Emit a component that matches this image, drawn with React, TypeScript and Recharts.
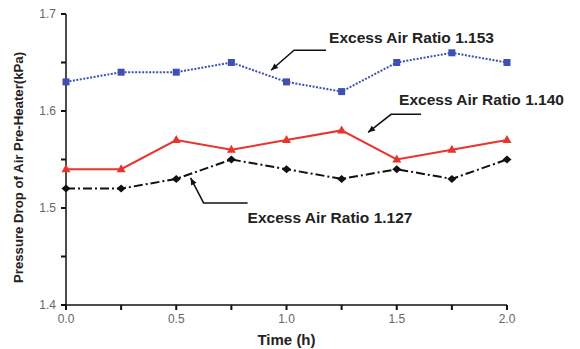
import React from "react"
import { LineChart, Line, XAxis, YAxis, ReferenceDot, Label } from "recharts"

const times = [0, 0.25, 0.5, 0.75, 1.0, 1.25, 1.5, 1.75, 2.0]
const ratio1153 = [1.63, 1.64, 1.64, 1.65, 1.63, 1.62, 1.65, 1.66, 1.65]
const ratio1140 = [1.54, 1.54, 1.57, 1.56, 1.57, 1.58, 1.55, 1.56, 1.57]
const ratio1127 = [1.52, 1.52, 1.53, 1.55, 1.54, 1.53, 1.54, 1.53, 1.55]

const xTicks = [0, 0.25, 0.5, 0.75, 1.0, 1.25, 1.5, 1.75, 2.0]
const yTicks = [1.4, 1.45, 1.5, 1.55, 1.6, 1.65, 1.7]

// annotation anchors (where the arrow points), in data units
const notes = [
  { label: "Excess Air Ratio 1.153", x: 0.93, y: 1.642, kind: "up" },
  { label: "Excess Air Ratio 1.140", x: 1.37, y: 1.578, kind: "up2" },
  { label: "Excess Air Ratio 1.127", x: 0.565, y: 1.531, kind: "down" },
]

const data = times.map((t, i) => ({
  t,
  a: ratio1153[i],
  b: ratio1140[i],
  c: ratio1127[i],
}))

const FONT = "'Liberation Sans', Arial, sans-serif"
const BLUE = "#3f4fb4"
const RED = "#e8342c"

const isMajor = (v: number) => Math.abs(v * 2 - Math.round(v * 2)) < 1e-6
const isMajorY = (v: number) => Math.abs(v * 10 - Math.round(v * 10)) < 1e-6

const Square = (props: any) => {
  const { cx, cy } = props
  return <rect x={cx - 3.5} y={cy - 3.5} width={7} height={7} fill={BLUE} />
}

const Triangle = (props: any) => {
  const { cx, cy } = props
  return <polygon points={`${cx},${cy - 5} ${cx - 4.5},${cy + 3} ${cx + 4.5},${cy + 3}`} fill={RED} />
}

const Diamond = (props: any) => {
  const { cx, cy } = props
  return <polygon points={`${cx},${cy - 4} ${cx + 4.5},${cy} ${cx},${cy + 4} ${cx - 4.5},${cy}`} fill="#111" />
}

const arrowHead = (tx: number, ty: number, fx: number, fy: number) => {
  const ang = Math.atan2(ty - fy, tx - fx)
  const len = 7
  const w = 3
  const bx = tx - len * Math.cos(ang)
  const by = ty - len * Math.sin(ang)
  const px = -Math.sin(ang) * w
  const py = Math.cos(ang) * w
  return `${tx},${ty} ${bx + px},${by + py} ${bx - px},${by - py}`
}

const Note = (props: any) => {
  const { cx, cy, note } = props
  let elbow: [number, number]
  let end: [number, number]
  let text: [number, number]
  if (note.kind === "up") {
    elbow = [cx + 23, cy - 20]
    end = [cx + 55, cy - 20]
    text = [cx + 58, cy - 27]
  } else if (note.kind === "up2") {
    elbow = [cx + 23, cy - 18]
    end = [cx + 53, cy - 18]
    text = [cx + 31, cy - 27]
  } else {
    elbow = [cx + 13, cy + 25]
    end = [cx + 57, cy + 25]
    text = [cx + 57, cy + 45]
  }
  return (
    <g>
      <polyline
        points={`${cx},${cy} ${elbow[0]},${elbow[1]} ${end[0]},${end[1]}`}
        fill="none"
        stroke="#111"
        strokeWidth={1.5}
      />
      <polygon points={arrowHead(cx, cy, elbow[0], elbow[1])} fill="#111" />
      <text x={text[0]} y={text[1]} fontSize={15.5} fontWeight="bold" fill="#222" fontFamily={FONT}>
        {note.label}
      </text>
    </g>
  )
}

export default function App() {
  return (
    <div style={{ position: "absolute", left: 0, top: 0, background: "#fff" }}>
      <LineChart width={580} height={349} data={data} margin={{ top: 14, right: 73, bottom: 0, left: 0 }}>
        <XAxis
          dataKey="t"
          type="number"
          domain={[0, 2]}
          ticks={xTicks}
          interval={0}
          tickSize={5}
          tickMargin={4}
          tickFormatter={(v: number) => (isMajor(v) ? v.toFixed(1) : "")}
          tick={{ fill: "#666", fontSize: 12, fontFamily: FONT }}
          tickLine={{ stroke: "#111", strokeWidth: 2 }}
          height={44}
          axisLine={{ stroke: "#111", strokeWidth: 1.5 }}
        >
          <Label
            value="Time (h)"
            position="insideBottom"
            offset={4}
            style={{ fontFamily: FONT, fontSize: 15, fontWeight: "bold", fill: "#222" }}
          />
        </XAxis>
        <YAxis
          type="number"
          domain={[1.4, 1.7]}
          ticks={yTicks}
          interval={0}
          width={66}
          tickSize={5}
          tickMargin={5}
          tickFormatter={(v: number) => (isMajorY(v) ? v.toFixed(1) : "")}
          tick={{ fill: "#666", fontSize: 12, fontFamily: FONT }}
          tickLine={{ stroke: "#111", strokeWidth: 2 }}
          axisLine={{ stroke: "#111", strokeWidth: 1.5 }}
        >
          <Label
            value="Pressure Drop of Air Pre-Heater(kPa)"
            angle={-90}
            position="insideLeft"
            offset={18}
            dy={8}
            style={{ fontFamily: FONT, fontSize: 13.2, fontWeight: "bold", fill: "#222", textAnchor: "middle" }}
          />
        </YAxis>
        <Line
          dataKey="a"
          stroke={BLUE}
          strokeWidth={2}
          strokeDasharray="2 1.5"
          dot={<Square />}
          isAnimationActive={false}
        />
        <Line dataKey="b" stroke={RED} strokeWidth={2} dot={<Triangle />} isAnimationActive={false} />
        <Line
          dataKey="c"
          stroke="#111"
          strokeWidth={2}
          strokeDasharray="9 3 2 3"
          dot={<Diamond />}
          isAnimationActive={false}
        />
        {notes.map((n) => (
          <ReferenceDot key={n.label} x={n.x} y={n.y} ifOverflow="visible" shape={(p: any) => <Note {...p} note={n} />} />
        ))}
      </LineChart>
    </div>
  )
}
